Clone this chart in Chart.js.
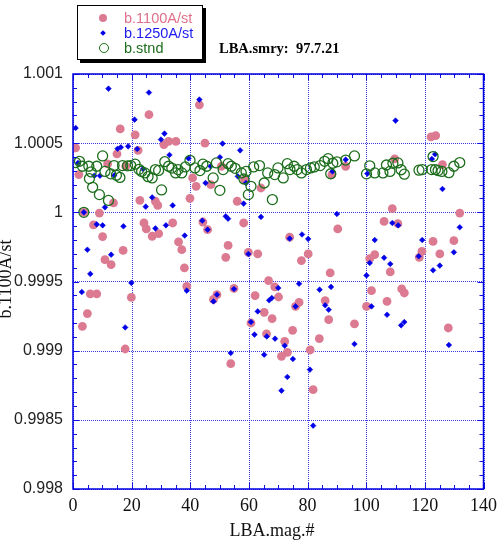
<!DOCTYPE html>
<html>
<head>
<meta charset="utf-8">
<script src="https://cdn.jsdelivr.net/npm/chart.js@4/dist/chart.umd.min.js"></script>
<style>
  html, body { margin: 0; padding: 0; background: #fff; }
  #wrap { position: relative; width: 503px; height: 542px; overflow: hidden; }
  #c { position: absolute; left: 0; top: 0; }
  .txt { position: absolute; white-space: pre; }
  .legend { position: absolute; left: 77px; top: 5px; width: 124px; height: 53px;
            border: 1px solid #000; box-shadow: 3px 3px 0 #000; background: #fff;
            font-family: "Liberation Sans", Arial, sans-serif; font-size: 14.5px; }
  .row { position: absolute; left: 46px; height: 16px; line-height: 16px; }
  .mk { position: absolute; box-sizing: border-box; }
</style>
</head>
<body>
<div id="wrap">
  <canvas id="c" width="503" height="542"></canvas>

  <div class="legend">
    <span class="mk" style="left:21px;top:8px;width:8px;height:8px;border-radius:50%;background:#dc7a92;"></span>
    <span class="row" style="top:4px;color:#e0708c;">b.1100A/st</span>
    <span class="mk" style="left:22.5px;top:24.5px;width:4px;height:4px;background:#0000e8;transform:rotate(45deg);"></span>
    <span class="row" style="top:19px;color:#1a1aee;">b.1250A/st</span>
    <span class="mk" style="left:20.5px;top:37px;width:10px;height:10px;border-radius:50%;border:1.5px solid #1c6e1c;"></span>
    <span class="row" style="top:33.5px;color:#1c6e1c;">b.stnd</span>
  </div>

  <div class="txt" style="left:219px;top:39px;line-height:18px;font-family:'Liberation Serif','Times New Roman',serif;font-weight:bold;font-size:14.5px;color:#000;">LBA.smry:  97.7.21</div>

  <div class="txt" style="left:-45px;top:269px;width:100px;height:20px;line-height:20px;text-align:center;transform:rotate(-90deg);font-family:'Liberation Serif','Times New Roman',serif;font-size:18px;color:#111;">b.1100A/st</div>

  <div class="txt" style="left:172px;top:519px;width:200px;line-height:22px;text-align:center;font-family:'Liberation Serif','Times New Roman',serif;font-size:18px;color:#111;">LBA.mag.#</div>
</div>

<script>
// Magnet number (x) and ratio (y) for each series
const b1100X = [0.9,2.0,3.7,9.0,7.0,10.1,11.8,13.8,15.0,16.1,18.0,21.2,22.2,22.8,24.2,25.0,25.9,27.0,28.1,28.9,29.2,31.0,32.6,34.0,35.1,39.9,40.8,42.0,43.1,44.3,45.0,45.9,47.0,50.6,56.0,58.2,58.5,64.1,73.9,88.3,90.3,93.0,109.7,122.1,123.7,126.0,108.9,106.1,110.8,131.9,129.9,122.8,
  17.1,10.9,13.0,36.0,37.1,38.0,5.9,8.1,19.9,4.9,3.2,17.8,38.8,
  52.9,52.1,59.8,63.0,80.2,77.9,87.7,66.7,68.8,70.1,62.1,49.1,47.9,54.9,77.1,75.9,86.0,87.2,65.2,67.9,60.7,74.9,66.0,72.2,84.0,73.1,71.1,80.9,53.8,81.9,
  102.9,101.2,119.0,118.1,125.1,108.2,101.8,112.1,113.0,107.1,100.1,96.0,128.0];
const b1100Y = [1.000466,1.000273,1.0,0.999995,0.999909,0.999825,1.00035,1.000068,1.000422,1.000603,1.000333,1.00056,1.000448,1.000087,0.999923,0.99988,1.000706,0.999827,1.00008,1.00005,0.999846,1.00049,1.000513,0.999923,1.000513,1.000101,1.000249,1.000188,1.000777,0.99993,1.0005,0.999875,1.0002,1.000333,1.00008,0.999923,1.000236,1.000176,0.99982,1.000273,0.99988,1.000333,1.000386,1.000545,1.000555,1.000345,1.000027,0.999934,0.999918,0.999995,0.999795,0.99979,
  0.999725,0.999658,0.999622,0.999786,0.99973,0.999598,0.99941,0.99941,0.999385,0.999268,0.999176,0.999012,0.999465,
  0.999761,0.999675,0.999711,0.999699,0.999699,0.999651,0.999562,0.999506,0.999461,0.999388,0.999398,0.999405,0.99937,0.99945,0.999349,0.99932,0.999362,0.999224,0.999277,0.999231,0.9992,0.999147,0.999121,0.999067,0.999087,0.998988,0.998959,0.999005,0.998906,0.998718,
  0.999694,0.999665,0.999718,0.999675,0.999699,0.999569,0.999434,0.999446,0.999417,0.999356,0.99932,0.999193,0.999164];

const b1250X = [0.9,1.7,12.1,25.9,21.0,31.2,30.0,15.2,16.3,18.8,21.9,32.9,39.4,7.3,9.2,14.1,23.9,27.0,24.8,10.9,34.0,3.7,8.1,10.1,17.2,28.1,31.7,38.1,44.1,43.1,51.0,57.0,50.1,46.9,56.2,59.0,58.2,45.2,52.1,52.9,64.1,45.9,90.0,78.1,80.2,73.9,88.5,93.0,110.0,123.5,122.4,126.0,100.4,108.9,110.9,131.9,102.9,119.1,
  4.9,13.0,5.9,3.0,19.9,17.8,38.8,
  59.8,49.1,47.9,54.9,70.0,77.1,84.1,88.0,66.9,67.8,63.0,75.9,86.0,87.2,60.7,61.9,66.1,68.9,72.2,53.8,65.2,75.0,80.8,73.1,71.1,81.9,
  129.9,101.2,106.1,108.2,117.9,122.8,125.1,100.1,101.8,107.1,111.9,113.0,96.0,128.2];
const b1250Y = [1.00061,1.000357,1.000894,1.000866,1.00067,1.000569,1.000526,1.00046,1.00047,1.000477,1.000458,1.000415,1.00039,1.000265,1.000265,1.000267,1.000314,1.000108,1.000041,1.000036,1.00005,1.0,0.999913,0.999906,0.999899,0.999884,0.999906,0.999832,0.99994,1.000815,1.000497,1.000448,1.000398,1.000333,1.00026,1.000212,1.000063,1.000212,0.999971,0.999954,0.999967,0.999875,0.999988,0.99984,0.999808,0.99981,1.000296,1.000381,1.000663,1.00042,1.000386,1.000169,1.00028,0.999923,0.999906,0.999892,0.9998,0.9998,
  0.99973,0.999694,0.999555,0.999424,0.99949,0.999168,0.999434,
  0.999699,0.999405,0.999356,0.999446,0.999453,0.999484,0.999441,0.999461,0.999364,0.999381,0.999284,0.99932,0.999328,0.999296,0.999207,0.999116,0.999103,0.999087,0.999036,0.998983,0.998971,0.99894,0.998863,0.99881,0.998711,0.998458,
  0.999711,0.999634,0.999672,0.999627,0.999682,0.999581,0.999615,0.999544,0.99932,0.99926,0.999183,0.999207,0.999048,0.999041];

const stndX = [0.9,2.2,3.2,3.7,5.4,5.6,6.2,6.7,8.1,9.0,10.1,10.9,12.1,12.9,14.0,14.8,16.0,16.9,18.6,19.7,21.2,22.5,23.4,24.5,25.6,27.0,28.1,29.2,30.2,31.3,32.6,33.7,35.0,35.8,37.1,38.3,39.9,41.6,43.3,44.3,45.6,47.8,48.9,50.1,51.2,52.9,54.0,55.3,57.4,58.3,59.0,59.8,60.7,61.6,63.6,65.2,66.4,68.0,68.8,69.9,71.7,73.1,74.0,75.4,76.5,77.9,79.6,81.0,82.3,84.3,85.8,87.0,87.9,88.6,90.0,93.0,96.0,100.1,101.2,102.9,105.7,106.9,108.1,109.1,110.8,111.9,113.0,118.0,119.1,122.3,122.8,123.6,124.5,125.8,128.2,129.9,131.9];
const stndY = [1.00036,1.000369,1.000333,1.0,1.000333,1.000244,1.000292,1.000181,1.000333,1.000128,1.000408,1.000296,1.000086,1.000278,1.000338,1.000268,1.000252,1.000338,1.000336,1.000338,1.000348,1.000311,1.000296,1.000285,1.000258,1.000249,1.000309,1.000303,1.000162,1.000366,1.000333,1.00032,1.000285,1.000309,1.000285,1.000328,1.000376,1.000321,1.000302,1.000348,1.000333,1.000249,1.000357,1.000159,1.000309,1.000352,1.000333,1.000318,1.000285,1.000241,1.000296,1.000128,1.000188,1.000328,1.000338,1.000212,1.000285,1.000092,1.000273,1.000321,1.000249,1.000352,1.000309,1.000333,1.000309,1.000285,1.000309,1.000321,1.000328,1.000338,1.000369,1.000388,1.000279,1.000355,1.000365,1.000378,1.000408,1.000278,1.000336,1.000285,1.000285,1.000342,1.000296,1.000355,1.000357,1.000308,1.000276,1.000305,1.000309,1.000309,1.000403,1.000309,1.000302,1.000296,1.000287,1.000333,1.00036];

// Axis ticks
const xTickValues = [0, 20, 40, 60, 80, 100, 120, 140];
const yTickValues = [0.998, 0.9985, 0.999, 0.9995, 1.0, 1.0005, 1.001];
const yTickLabels = ['0.998', '0.9985', '0.999', '0.9995', '1', '1.0005', '1.001'];

const toPoints = (xs, ys) => xs.map((x, i) => ({ x: x, y: ys[i] }));

// Dotted grid, solid frame and inward tick marks on all four sides
const framePlugin = {
  id: 'frame',
  beforeDatasetsDraw(chart) {
    const { ctx, chartArea: a, scales: { x, y } } = chart;
    ctx.save();
    ctx.strokeStyle = 'rgba(40,40,230,0.9)';
    ctx.lineWidth = 1;
    ctx.setLineDash([1, 1]);
    x.ticks.forEach(t => {
      const px = Math.round(x.getPixelForValue(t.value)) + 0.5;
      ctx.beginPath(); ctx.moveTo(px, a.top); ctx.lineTo(px, a.bottom); ctx.stroke();
    });
    y.ticks.forEach(t => {
      const py = Math.round(y.getPixelForValue(t.value)) + 0.5;
      ctx.beginPath(); ctx.moveTo(a.left, py); ctx.lineTo(a.right, py); ctx.stroke();
    });
    ctx.restore();
  },
  afterDatasetsDraw(chart) {
    const { ctx, chartArea: a, scales: { x, y } } = chart;
    ctx.save();
    ctx.strokeStyle = '#1010e6';
    ctx.lineWidth = 1;
    for (let v = 0; v <= 140; v += 5) {
      const px = Math.round(x.getPixelForValue(v)) + 0.5;
      const len = v % 20 === 0 ? 6 : 4;
      ctx.beginPath();
      ctx.moveTo(px, a.bottom); ctx.lineTo(px, a.bottom - len);
      ctx.moveTo(px, a.top); ctx.lineTo(px, a.top + len);
      ctx.stroke();
    }
    for (let k = 0; k <= 30; k++) {
      const py = Math.round(y.getPixelForValue(0.998 + k * 0.0001)) + 0.5;
      const len = k % 5 === 0 ? 6 : 4;
      ctx.beginPath();
      ctx.moveTo(a.left, py); ctx.lineTo(a.left + len, py);
      ctx.moveTo(a.right, py); ctx.lineTo(a.right - len, py);
      ctx.stroke();
    }
    ctx.strokeStyle = '#0000e0';
    ctx.lineWidth = 1.5;
    ctx.strokeRect(a.left, a.top, a.right - a.left, a.bottom - a.top);
    ctx.restore();
  }
};

new Chart(document.getElementById('c'), {
  type: 'scatter',
  data: {
    datasets: [
      { label: 'b.stnd', data: toPoints(stndX, stndY), order: 1,
        pointStyle: 'circle', pointRadius: 5, pointBorderWidth: 1.3,
        pointBackgroundColor: 'rgba(0,0,0,0)', pointBorderColor: '#1c6e1c' },
      { label: 'b.1250A/st', data: toPoints(b1250X, b1250Y), order: 2,
        pointStyle: 'rectRot', pointRadius: 2.8, pointBorderWidth: 0.6,
        pointBackgroundColor: '#0000e8', pointBorderColor: '#0000e8' },
      { label: 'b.1100A/st', data: toPoints(b1100X, b1100Y), order: 3,
        pointStyle: 'circle', pointRadius: 4.4, pointBorderWidth: 0,
        pointBackgroundColor: '#dc7a92', pointBorderColor: '#dc7a92' }
    ]
  },
  options: {
    responsive: false,
    animation: false,
    events: [],
    layout: { padding: { top: 74, right: 15, left: 0, bottom: 0 } },
    plugins: { legend: { display: false }, tooltip: { enabled: false } },
    scales: {
      x: {
        type: 'linear', position: 'bottom', min: 0, max: 140,
        grid: { display: false, drawTicks: false },
        border: { display: false },
        afterFit(s) { s.height = 53; },
        afterBuildTicks(s) { s.ticks = xTickValues.map(v => ({ value: v })); },
        ticks: {
          autoSkip: false, maxRotation: 0, padding: 6, color: '#111',
          font: { family: '"Liberation Serif", "Times New Roman", serif', size: 18 },
          callback: v => String(v)
        }
      },
      y: {
        type: 'linear', position: 'left', min: 0.998, max: 1.001,
        grid: { display: false, drawTicks: false },
        border: { display: false },
        afterFit(s) { s.width = 73; },
        afterBuildTicks(s) { s.ticks = yTickValues.map(v => ({ value: v })); },
        ticks: {
          autoSkip: false, padding: 10, color: '#222',
          font: { family: '"Liberation Sans", Arial, sans-serif', size: 16 },
          callback: (v) => {
            const i = yTickValues.findIndex(t => Math.abs(t - v) < 1e-9);
            return i >= 0 ? yTickLabels[i] : '';
          }
        }
      }
    }
  },
  plugins: [framePlugin]
});
</script>
</body>
</html>
